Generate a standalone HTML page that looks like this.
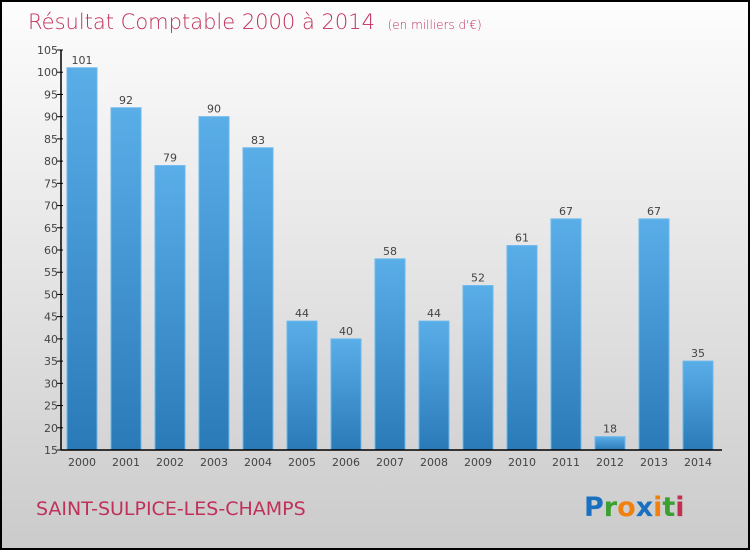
<!DOCTYPE html>
<html><head><meta charset="utf-8"><style>
body{margin:0}
#c{width:750px;height:550px;position:relative;box-sizing:border-box;border:2px solid #000;background:linear-gradient(#fdfdfd,#cbcbcb);font-family:"DejaVu Sans","Liberation Sans",sans-serif;overflow:hidden}
</style></head><body>
<div id="c">
<svg id="s" width="746" height="546" style="position:absolute;left:0;top:0">
<defs><linearGradient id="g" x1="0" y1="0" x2="0" y2="1"><stop offset="0" stop-color="#5aaee8"/><stop offset="1" stop-color="#2a7ab8"/></linearGradient></defs>
<text x="26" y="27" font-size="21" fill="#c0305a" font-weight="300">Résultat Comptable 2000 à 2014 <tspan font-size="12" dx="6">(en milliers d'€)</tspan></text>
<text x="34" y="513" font-size="19" fill="#c0305a">SAINT-SULPICE-LES-CHAMPS</text>
<text x="582" y="514" font-size="27" font-weight="bold"><tspan fill="#1a70c0">P</tspan><tspan fill="#3aa030">r</tspan><tspan fill="#f08010">o</tspan><tspan fill="#1a70c0">x</tspan><tspan fill="#f08010">i</tspan><tspan fill="#3aa030">t</tspan><tspan fill="#c03050">i</tspan></text>
</svg>
</div>
<script>
const years=["2000","2001","2002","2003","2004","2005","2006","2007","2008","2009","2010","2011","2012","2013","2014"];
const values=[101,92,79,90,83,44,40,58,44,52,61,67,18,67,35];
const yTicks=[15,20,25,30,35,40,45,50,55,60,65,70,75,80,85,90,95,100,105];
const s=document.getElementById('s'),NS='http://www.w3.org/2000/svg';
const ox=-2,oy=-2;
const y=v=>450+oy-(v-15)*400/90;
const x=i=>82+ox+i*44;
function mk(t,a){const e=document.createElementNS(NS,t);for(const k in a)e.setAttribute(k,a[k]);s.appendChild(e);return e;}
values.forEach((v,i)=>{
const r=mk('rect',{x:x(i)-15,y:y(v),width:30,height:y(15)-y(v),fill:'url(#g)',stroke:'#6bb8ee','stroke-width':1});


const t=mk('text',{x:x(i),y:y(v)-4,'text-anchor':'middle','font-size':11,fill:'#444'});t.textContent=v;


const xl=mk('text',{x:x(i),y:y(15)+16,'text-anchor':'middle','font-size':11,fill:'#444'});xl.textContent=years[i];


});
yTicks.forEach(v=>{
mk('line',{x1:57+ox,x2:63+ox,y1:y(v),y2:y(v),stroke:'#000'});
const t=mk('text',{x:58+ox,y:y(v)+4,'text-anchor':'end','font-size':11,fill:'#444'});t.textContent=v;


});
const ya=mk('line',{x1:61+ox,x2:61+ox,y1:y(105),y2:y(15),stroke:'#000','stroke-width':1.5});


const xa=mk('line',{x1:61+ox,x2:722+ox,y1:y(15),y2:y(15),stroke:'#000','stroke-width':1.5});


</script>
</body></html>
